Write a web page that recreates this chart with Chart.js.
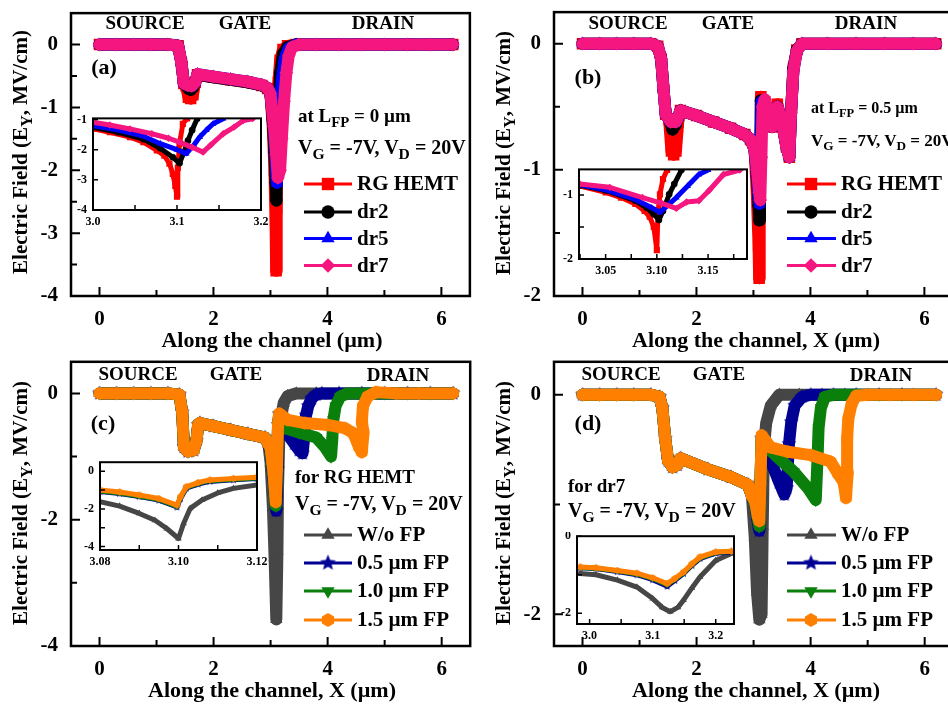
<!DOCTYPE html>
<html><head><meta charset="utf-8">
<script src="https://cdn.jsdelivr.net/npm/chart.js@4.4.1/dist/chart.umd.min.js"></script>
<style>
html,body{margin:0;padding:0;overflow:hidden;background:#fff;}
body{position:relative;width:948px;height:706px;}
canvas{position:absolute;}
.t{position:absolute;z-index:5;white-space:nowrap;font-family:"Liberation Serif","Times New Roman",serif;font-weight:bold;color:#000;line-height:1;}
.t sub{font-size:0.78em;vertical-align:baseline;position:relative;top:0.32em;}
.c{transform:translate(-50%,-50%);}
.l{transform:translateY(-50%);}
.r{transform:translate(-50%,-50%) rotate(-90deg);}
</style></head><body>

<div class="t c" style="left:145px;top:22px;font-size:19px">SOURCE</div>
<div class="t c" style="left:245px;top:22px;font-size:19px">GATE</div>
<div class="t c" style="left:383px;top:22px;font-size:19px">DRAIN</div>
<div class="t c" style="left:104px;top:67px;font-size:22px">(a)</div>
<div class="t l" style="left:298px;top:115px;font-size:19px">at L<sub>FP</sub> = 0 µm</div>
<div class="t l" style="left:298px;top:147px;font-size:20px">V<sub>G</sub> = -7V, V<sub>D</sub> = 20V</div>

<div class="t c" style="left:628px;top:22px;font-size:19px">SOURCE</div>
<div class="t c" style="left:728px;top:22px;font-size:19px">GATE</div>
<div class="t c" style="left:866px;top:22px;font-size:19px">DRAIN</div>
<div class="t c" style="left:588px;top:77px;font-size:22px">(b)</div>
<div class="t l" style="left:811px;top:108px;font-size:16px">at L<sub>FP</sub> = 0.5 µm</div>
<div class="t l" style="left:811px;top:140px;font-size:17px">V<sub>G</sub> = -7V, V<sub>D</sub> = 20V</div>

<div class="t c" style="left:138px;top:373px;font-size:19px">SOURCE</div>
<div class="t c" style="left:236px;top:373px;font-size:19px">GATE</div>
<div class="t c" style="left:398px;top:374px;font-size:19px">DRAIN</div>
<div class="t c" style="left:103px;top:423px;font-size:22px">(c)</div>
<div class="t l" style="left:295px;top:476px;font-size:19px">for RG HEMT</div>
<div class="t l" style="left:295px;top:503px;font-size:20px">V<sub>G</sub> = -7V, V<sub>D</sub> = 20V</div>

<div class="t c" style="left:621px;top:373px;font-size:19px">SOURCE</div>
<div class="t c" style="left:719px;top:373px;font-size:19px">GATE</div>
<div class="t c" style="left:881px;top:374px;font-size:19px">DRAIN</div>
<div class="t c" style="left:588px;top:423px;font-size:22px">(d)</div>
<div class="t l" style="left:568px;top:485px;font-size:19px">for dr7</div>
<div class="t l" style="left:568px;top:510px;font-size:20px">V<sub>G</sub> = -7V, V<sub>D</sub> = 20V</div>

<div class="t r" style="left:20px;top:152px;font-size:21px">Electric Field (E<sub>Y</sub>, MV/cm)</div>
<div class="t r" style="left:503px;top:153px;font-size:21px">Electric Field (E<sub>Y</sub>, MV/cm)</div>
<div class="t r" style="left:20px;top:503px;font-size:21px">Electric Field (E<sub>Y</sub>, MV/cm)</div>
<div class="t r" style="left:503px;top:503px;font-size:21px">Electric Field (E<sub>Y</sub>, MV/cm)</div>
<div class="t c" style="left:272px;top:340px;font-size:22px">Along the channel (µm)</div>
<div class="t c" style="left:756px;top:340px;font-size:22px">Along the channel, X (µm)</div>
<div class="t c" style="left:272px;top:690px;font-size:22px">Along the channel, X (µm)</div>
<div class="t c" style="left:756px;top:690px;font-size:22px">Along the channel, X (µm)</div>

<script>
// ================= DATA =================
// ---- tick values / labels ----
const MAIN_X_TICKS = [0, 2, 4, 6];
const MAIN_X_MINOR = [1, 3, 5];
const A_Y_TICKS = [0, -1, -2, -3, -4];
const A_Y_MINOR = [-0.5, -1.5, -2.5, -3.5];
const B_Y_TICKS = [0, -1, -2];
const B_Y_MINOR = [-0.5, -1.5];
const C_Y_TICKS = [0, -2, -4];
const C_Y_MINOR = [-1, -3];
const D_Y_TICKS = [0, -2];
const D_Y_MINOR = [-1];
const IA_X_TICKS = [3.0, 3.1, 3.2];   const IA_X_LABELS = ['3.0', '3.1', '3.2'];   const IA_X_MINOR = [3.05, 3.15];
const IA_Y_TICKS = [-1, -2, -3, -4];  const IA_Y_MINOR = [];
const IB_X_TICKS = [3.05, 3.10, 3.15]; const IB_X_LABELS = ['3.05', '3.10', '3.15']; const IB_X_MINOR = [3.025, 3.075, 3.125, 3.175];
const IB_Y_TICKS = [-1, -2];          const IB_Y_MINOR = [-1.5];
const IC_X_TICKS = [3.08, 3.10, 3.12]; const IC_X_LABELS = ['3.08', '3.10', '3.12']; const IC_X_MINOR = [3.09, 3.11];
const IC_Y_TICKS = [0, -2, -4];       const IC_Y_MINOR = [-1, -3];
const ID_X_TICKS = [3.0, 3.1, 3.2];   const ID_X_LABELS = ['3.0', '3.1', '3.2'];   const ID_X_MINOR = [3.05, 3.15];
const ID_Y_TICKS = [0, -2];           const ID_Y_MINOR = [-1];

// ---- legend labels ----
const LABELS_AB = ['RG HEMT', 'dr2', 'dr5', 'dr7'];
const LABELS_CD = ['W/o FP', '0.5 µm FP', '1.0 µm FP', '1.5 µm FP'];

// ---- Panel (a): L_FP = 0 ----
const A_RG_X = [0,0.3,0.6,0.9,1.2,1.38,1.44,1.48,1.52,1.56,1.6,1.64,1.68,1.72,2.0,2.3,2.6,2.85,2.95,3.0,3.04,3.07,3.09,3.1,3.11,3.12,3.14,3.17,3.22,3.3,3.45,3.8,4.2,4.6,5.0,5.4,5.8,6.2];
const A_RG_Y = [0,0,0,0,0,-0.02,-0.3,-0.62,-0.66,-0.84,-0.86,-0.8,-0.6,-0.48,-0.52,-0.56,-0.6,-0.65,-0.7,-0.78,-1.3,-2.0,-2.8,-3.6,-2.6,-1.3,-0.6,-0.25,-0.08,-0.02,0,0,0,0,0,0,0,0];
const A_D2_X = [0,0.3,0.6,0.9,1.2,1.38,1.44,1.48,1.52,1.56,1.6,1.64,1.68,1.72,2.0,2.3,2.6,2.85,2.95,3.0,3.04,3.07,3.09,3.105,3.12,3.14,3.17,3.22,3.3,3.45,3.8,4.2,4.6,5.0,5.4,5.8,6.2];
const A_D2_Y = [0,0,0,0,0,-0.02,-0.3,-0.62,-0.65,-0.7,-0.72,-0.68,-0.6,-0.48,-0.52,-0.56,-0.6,-0.65,-0.7,-0.78,-1.2,-1.7,-2.2,-2.48,-1.8,-1.0,-0.45,-0.15,-0.04,0,0,0,0,0,0,0,0];
const A_D5_X = [0,0.3,0.6,0.9,1.2,1.38,1.44,1.48,1.55,1.62,1.68,1.72,2.0,2.3,2.6,2.85,2.95,3.0,3.05,3.08,3.1,3.115,3.14,3.17,3.2,3.25,3.32,3.45,3.8,4.2,4.6,5.0,5.4,5.8,6.2];
const A_D5_Y = [0,0,0,0,0,-0.02,-0.3,-0.62,-0.65,-0.66,-0.6,-0.47,-0.51,-0.55,-0.59,-0.64,-0.69,-0.77,-1.2,-1.6,-1.95,-2.2,-1.6,-1.0,-0.55,-0.22,-0.06,0,0,0,0,0,0,0,0];
const A_D7_X = [0,0.3,0.6,0.9,1.2,1.38,1.44,1.48,1.55,1.62,1.68,1.72,2.0,2.3,2.6,2.85,2.95,3.0,3.06,3.1,3.13,3.17,3.2,3.24,3.28,3.32,3.38,3.5,3.8,4.2,4.6,5.0,5.4,5.8,6.2];
const A_D7_Y = [0,0,0,0,0,-0.02,-0.3,-0.62,-0.65,-0.66,-0.6,-0.47,-0.51,-0.55,-0.59,-0.64,-0.69,-0.78,-1.3,-1.75,-2.12,-2.0,-1.5,-0.9,-0.45,-0.18,-0.04,0,0,0,0,0,0,0,0];

// ---- Panel (b): L_FP = 0.5 ----
const B_RG_X = [0,0.3,0.6,0.9,1.2,1.32,1.38,1.42,1.46,1.52,1.56,1.6,1.64,1.68,1.72,2.0,2.3,2.6,2.85,2.95,3.02,3.06,3.09,3.1,3.11,3.12,3.13,3.2,3.33,3.42,3.5,3.58,3.63,3.66,3.7,3.76,3.85,4.3,4.8,5.3,5.8,6.2];
const B_RG_Y = [0,0,0,0,0,-0.02,-0.12,-0.35,-0.56,-0.6,-0.85,-0.88,-0.85,-0.62,-0.53,-0.57,-0.62,-0.67,-0.72,-0.76,-0.84,-1.2,-1.6,-1.86,-1.3,-0.8,-0.42,-0.46,-0.66,-0.48,-0.62,-0.82,-0.9,-0.55,-0.2,-0.05,0,0,0,0,0,0];
const B_D2_X = [0,0.3,0.6,0.9,1.2,1.32,1.38,1.42,1.46,1.52,1.58,1.64,1.68,1.72,2.0,2.3,2.6,2.85,2.95,3.02,3.06,3.09,3.102,3.115,3.13,3.2,3.33,3.42,3.5,3.58,3.63,3.66,3.7,3.76,3.85,4.3,4.8,5.3,5.8,6.2];
const B_D2_Y = [0,0,0,0,0,-0.02,-0.12,-0.35,-0.56,-0.6,-0.68,-0.64,-0.58,-0.53,-0.57,-0.62,-0.67,-0.72,-0.76,-0.84,-1.05,-1.28,-1.4,-1.0,-0.45,-0.46,-0.66,-0.5,-0.62,-0.82,-0.9,-0.55,-0.2,-0.05,0,0,0,0,0,0];
const B_D5_X = [0,0.3,0.6,0.9,1.2,1.32,1.38,1.42,1.46,1.55,1.64,1.68,1.72,2.0,2.3,2.6,2.85,2.95,3.02,3.06,3.09,3.107,3.12,3.14,3.2,3.33,3.42,3.5,3.58,3.63,3.66,3.7,3.76,3.85,4.3,4.8,5.3,5.8,6.2];
const B_D5_Y = [0,0,0,0,0,-0.02,-0.12,-0.35,-0.56,-0.62,-0.62,-0.58,-0.53,-0.57,-0.62,-0.67,-0.72,-0.76,-0.84,-1.02,-1.2,-1.27,-0.9,-0.46,-0.47,-0.66,-0.5,-0.62,-0.82,-0.9,-0.55,-0.22,-0.06,0,0,0,0,0,0];
const B_D7_X = [0,0.3,0.6,0.9,1.2,1.32,1.38,1.42,1.46,1.55,1.64,1.68,1.72,2.0,2.3,2.6,2.85,2.95,3.02,3.06,3.1,3.12,3.14,3.16,3.2,3.33,3.42,3.5,3.58,3.63,3.66,3.7,3.76,3.85,4.3,4.8,5.3,5.8,6.2];
const B_D7_Y = [0,0,0,0,0,-0.02,-0.12,-0.35,-0.56,-0.62,-0.62,-0.58,-0.53,-0.57,-0.62,-0.67,-0.72,-0.76,-0.84,-1.0,-1.18,-1.24,-0.9,-0.5,-0.44,-0.66,-0.5,-0.62,-0.82,-0.9,-0.55,-0.22,-0.06,0,0,0,0,0,0];

// ---- Panel (c): RG HEMT, field plates ----
const C_WO_X = [0,0.3,0.6,0.9,1.2,1.4,1.45,1.48,1.55,1.65,1.7,1.73,1.76,2.0,2.3,2.6,2.9,2.96,3.0,3.04,3.07,3.1,3.12,3.13,3.15,3.18,3.23,3.3,3.45,3.8,4.2,4.6,5.0,5.4,5.8,6.2];
const C_WO_Y = [0,0,0,0,0,-0.02,-0.3,-0.85,-0.92,-0.9,-0.75,-0.5,-0.47,-0.52,-0.58,-0.64,-0.7,-0.8,-1.1,-1.8,-2.6,-3.58,-2.5,-1.5,-0.8,-0.4,-0.15,-0.04,0,0,0,0,0,0,0,0];
const C_F05_X = [0,0.3,0.6,0.9,1.2,1.4,1.45,1.48,1.55,1.65,1.7,1.73,1.76,2.0,2.3,2.6,2.9,2.96,3.0,3.05,3.1,3.12,3.13,3.15,3.2,3.3,3.42,3.5,3.56,3.59,3.62,3.66,3.72,3.8,3.9,4.2,4.6,5.0,5.4,5.8,6.2];
const C_F05_Y = [0,0,0,0,0,-0.02,-0.3,-0.85,-0.92,-0.9,-0.75,-0.5,-0.47,-0.52,-0.58,-0.64,-0.7,-0.8,-0.9,-1.35,-1.86,-1.2,-0.5,-0.33,-0.52,-0.65,-0.8,-0.9,-0.95,-0.7,-0.35,-0.2,-0.08,-0.02,0,0,0,0,0,0,0];
const C_F10_X = [0,0.3,0.6,0.9,1.2,1.4,1.45,1.48,1.55,1.65,1.7,1.73,1.76,2.0,2.3,2.6,2.9,2.96,3.0,3.05,3.09,3.11,3.13,3.15,3.25,3.5,3.8,3.95,4.06,4.08,4.1,4.14,4.22,4.35,4.6,5.0,5.4,5.8,6.2];
const C_F10_Y = [0,0,0,0,0,-0.02,-0.3,-0.85,-0.92,-0.9,-0.75,-0.5,-0.47,-0.52,-0.58,-0.64,-0.7,-0.8,-0.88,-1.3,-1.78,-1.2,-0.5,-0.34,-0.55,-0.62,-0.7,-0.85,-1.0,-0.75,-0.42,-0.2,-0.05,0,0,0,0,0,0];
const C_F15_X = [0,0.3,0.6,0.9,1.2,1.4,1.45,1.48,1.55,1.65,1.7,1.73,1.76,2.0,2.3,2.6,2.9,2.96,3.0,3.05,3.09,3.11,3.13,3.15,3.3,3.6,4.0,4.3,4.45,4.55,4.6,4.63,4.6,4.62,4.7,4.85,5.2,5.6,6.2];
const C_F15_Y = [0,0,0,0,0,-0.02,-0.3,-0.85,-0.92,-0.9,-0.75,-0.5,-0.47,-0.52,-0.58,-0.64,-0.7,-0.8,-0.86,-1.25,-1.72,-1.2,-0.5,-0.32,-0.42,-0.47,-0.5,-0.55,-0.63,-0.85,-0.93,-0.62,-0.45,-0.2,-0.05,0.02,0,0,0];

// ---- Panel (d): dr7, field plates ----
const D_WO_X = [0,0.3,0.6,0.9,1.2,1.35,1.4,1.45,1.5,1.58,1.66,1.72,2.2,2.6,2.9,2.97,3.02,3.06,3.1,3.14,3.16,3.18,3.22,3.3,3.45,3.8,4.2,4.6,5.0,5.4,5.8,6.2];
const D_WO_Y = [0,0,0,0,0,-0.02,-0.12,-0.4,-0.6,-0.66,-0.64,-0.58,-0.68,-0.75,-0.82,-0.92,-1.3,-1.8,-2.05,-2.0,-1.2,-0.5,-0.26,-0.1,0,0,0,0,0,0,0,0];
const D_F05_X = [0,0.3,0.6,0.9,1.2,1.35,1.4,1.45,1.5,1.58,1.66,1.72,2.2,2.6,2.9,2.97,3.03,3.07,3.1,3.12,3.14,3.2,3.3,3.45,3.54,3.58,3.62,3.66,3.72,3.85,4.0,4.4,4.8,5.2,5.6,6.2];
const D_F05_Y = [0,0,0,0,0,-0.02,-0.12,-0.4,-0.6,-0.66,-0.64,-0.58,-0.68,-0.75,-0.82,-0.92,-1.0,-1.15,-1.24,-0.8,-0.4,-0.46,-0.6,-0.8,-0.91,-0.85,-0.45,-0.25,-0.1,-0.02,0,0,0,0,0,0];
const D_F10_X = [0,0.3,0.6,0.9,1.2,1.35,1.4,1.45,1.5,1.58,1.66,1.72,2.2,2.6,2.9,2.97,3.03,3.07,3.1,3.12,3.14,3.2,3.4,3.7,3.95,4.09,4.12,4.14,4.18,4.25,4.4,4.8,5.2,5.6,6.2];
const D_F10_Y = [0,0,0,0,0,-0.02,-0.12,-0.4,-0.6,-0.66,-0.64,-0.58,-0.68,-0.75,-0.82,-0.92,-1.0,-1.12,-1.2,-0.8,-0.4,-0.46,-0.56,-0.7,-0.85,-0.96,-0.6,-0.3,-0.12,-0.02,0,0,0,0,0];
const D_F15_X = [0,0.3,0.6,0.9,1.2,1.35,1.4,1.45,1.5,1.58,1.66,1.72,2.2,2.6,2.9,2.97,3.03,3.07,3.1,3.12,3.14,3.3,3.6,4.0,4.35,4.48,4.58,4.62,4.65,4.64,4.66,4.72,4.8,5.0,5.4,5.8,6.2];
const D_F15_Y = [0,0,0,0,0,-0.02,-0.12,-0.4,-0.6,-0.66,-0.64,-0.58,-0.68,-0.75,-0.82,-0.92,-0.98,-1.1,-1.15,-0.8,-0.37,-0.48,-0.52,-0.55,-0.61,-0.72,-0.8,-0.94,-0.71,-0.4,-0.22,-0.08,-0.01,0,0,0,0];

// ---- Insets ----
const IA_RG_X = [3.0,3.02,3.044,3.06,3.076,3.085,3.091,3.095,3.098,3.1,3.101,3.103,3.107,3.112];
const IA_RG_Y = [-1.3,-1.42,-1.58,-1.75,-2.02,-2.2,-2.46,-2.8,-3.2,-3.56,-2.6,-1.8,-1.14,-0.96];
const IA_D2_X = [3.0,3.03,3.06,3.08,3.095,3.103,3.108,3.113,3.118,3.124];
const IA_D2_Y = [-1.25,-1.42,-1.65,-1.95,-2.25,-2.45,-2.1,-1.7,-1.35,-0.97];
const IA_D5_X = [3.0,3.03,3.06,3.08,3.1,3.111,3.12,3.127,3.135,3.143,3.155];
const IA_D5_Y = [-1.2,-1.35,-1.55,-1.8,-2.0,-2.13,-1.85,-1.58,-1.35,-1.14,-0.97];
const IA_D7_X = [3.0,3.02,3.044,3.07,3.09,3.103,3.118,3.131,3.14,3.155,3.168,3.179,3.19];
const IA_D7_Y = [-1.09,-1.18,-1.31,-1.47,-1.62,-1.75,-1.92,-2.08,-1.85,-1.47,-1.25,-1.03,-0.97];

const IB_RG_X = [3.025,3.05,3.065,3.079,3.088,3.093,3.097,3.1,3.101,3.103,3.106,3.11];
const IB_RG_Y = [-0.86,-0.96,-1.04,-1.14,-1.25,-1.34,-1.5,-1.86,-1.3,-0.99,-0.75,-0.61];
const IB_D2_X = [3.025,3.05,3.079,3.09,3.097,3.102,3.106,3.112,3.117,3.124];
const IB_D2_Y = [-0.85,-0.93,-1.09,-1.2,-1.3,-1.39,-1.25,-0.99,-0.83,-0.61];
const IB_D5_X = [3.025,3.05,3.079,3.095,3.103,3.11,3.119,3.13,3.141,3.15];
const IB_D5_Y = [-0.84,-0.92,-1.07,-1.2,-1.27,-1.17,-1.04,-0.86,-0.68,-0.61];
const IB_D7_X = [3.025,3.054,3.086,3.105,3.119,3.129,3.141,3.151,3.165,3.181];
const IB_D7_Y = [-0.83,-0.88,-1.04,-1.13,-1.21,-1.11,-1.09,-0.93,-0.68,-0.61];

const IC_WO_X = [3.08,3.085,3.09,3.094,3.097,3.1,3.1013,3.103,3.106,3.11,3.114,3.12];
const IC_WO_Y = [-1.62,-1.85,-2.24,-2.6,-3.04,-3.57,-2.77,-1.97,-1.53,-1.15,-0.91,-0.73];
const IC_FP_X = [3.08,3.085,3.09,3.095,3.0996,3.1005,3.102,3.105,3.108,3.114,3.12];
const IC_F05_Y = [-1.08,-1.18,-1.34,-1.53,-1.9,-1.45,-0.9,-0.68,-0.54,-0.45,-0.39];
const IC_F10_Y = [-1.05,-1.15,-1.31,-1.5,-1.86,-1.4,-0.86,-0.64,-0.5,-0.42,-0.36];
const IC_F15_Y = [-1.0,-1.1,-1.26,-1.45,-1.8,-1.35,-0.82,-0.6,-0.46,-0.38,-0.32];

const ID_WO_X = [2.985,3.01,3.044,3.075,3.1,3.115,3.128,3.14,3.149,3.162,3.175,3.2,3.225];
const ID_WO_Y = [-0.97,-1.0,-1.14,-1.32,-1.62,-1.85,-1.96,-1.85,-1.66,-1.35,-1.06,-0.63,-0.45];
const ID_FP_X = [2.985,3.01,3.044,3.075,3.1,3.123,3.135,3.149,3.162,3.175,3.2,3.225];
const ID_F05_Y = [-0.82,-0.84,-0.92,-1.0,-1.13,-1.3,-1.15,-0.97,-0.76,-0.58,-0.44,-0.41];
const ID_F10_Y = [-0.81,-0.83,-0.9,-0.98,-1.1,-1.26,-1.12,-0.95,-0.74,-0.56,-0.42,-0.4];
const ID_F15_Y = [-0.8,-0.82,-0.89,-0.96,-1.08,-1.23,-1.1,-0.93,-0.72,-0.54,-0.41,-0.39];

// ================= STYLE / LAYOUT =================
const FONT = '"Liberation Serif","Times New Roman",serif';

function starImg(r, color) {
  const c = document.createElement('canvas'); const s = Math.ceil(2 * r + 2);
  c.width = c.height = s; const g = c.getContext('2d'); g.fillStyle = color; g.beginPath();
  for (let i = 0; i < 10; i++) {
    const rr = i % 2 ? r * 0.45 : r, a = -Math.PI / 2 + i * Math.PI / 5;
    const px = s / 2 + rr * Math.cos(a), py = s / 2 + rr * Math.sin(a);
    if (i) g.lineTo(px, py); else g.moveTo(px, py);
  }
  g.closePath(); g.fill(); return c;
}
function hexImg(r, color) {
  const c = document.createElement('canvas'); const s = Math.ceil(2 * r + 2);
  c.width = c.height = s; const g = c.getContext('2d'); g.fillStyle = color; g.beginPath();
  for (let i = 0; i < 6; i++) {
    const a = -Math.PI / 2 + i * Math.PI / 3;
    const px = s / 2 + r * Math.cos(a), py = s / 2 + r * Math.sin(a);
    if (i) g.lineTo(px, py); else g.moveTo(px, py);
  }
  g.closePath(); g.fill(); return c;
}

const STY = {
  RG:  { color: '#ff0000', ps: 'rect', k: 1.25 },
  D2:  { color: '#000000', ps: 'circle', k: 0.95 },
  D5:  { color: '#0000ff', ps: 'triangle', k: 1.1 },
  D7:  { color: '#f5167f', ps: 'rectRot', k: 1.05 },
  WO:  { color: '#464646', ps: 'triangle', k: 1.1 },
  F05: { color: '#000094', ps: 'star', k: 1.2 },
  F10: { color: '#0b7f0b', ps: 'triangle', rot: 180, k: 1.1 },
  F15: { color: '#ff8000', ps: 'hex', k: 1.0 }
};
function pStyle(st, r) {
  if (st.ps === 'star') return starImg(r, st.color);
  if (st.ps === 'hex') return hexImg(r, st.color);
  return st.ps;
}

const decoPlugin = {
  id: 'deco',
  afterDatasetsDraw(chart, args, o) {
    const { ctx, chartArea: a, scales } = chart;
    const x = scales.x, y = scales.y;
    ctx.save();
    ctx.strokeStyle = '#000';
    ctx.lineWidth = o.tw;
    ctx.beginPath();
    o.xMajor.forEach(v => { const p = x.getPixelForValue(v); ctx.moveTo(p, a.bottom); ctx.lineTo(p, a.bottom - o.tl); });
    o.xMinor.forEach(v => { const p = x.getPixelForValue(v); ctx.moveTo(p, a.bottom); ctx.lineTo(p, a.bottom - o.tl2); });
    o.yMajor.forEach(v => { const p = y.getPixelForValue(v); ctx.moveTo(a.left, p); ctx.lineTo(a.left + o.tl, p); });
    o.yMinor.forEach(v => { const p = y.getPixelForValue(v); ctx.moveTo(a.left, p); ctx.lineTo(a.left + o.tl2, p); });
    ctx.stroke();
    ctx.lineWidth = o.lw;
    ctx.strokeRect(a.left, a.top, a.right - a.left, a.bottom - a.top);
    if (o.legend) {
      const L = o.legend;
      L.rows.forEach((ry, i) => {
        const st = L.styles[i];
        ctx.strokeStyle = st.color; ctx.fillStyle = st.color; ctx.lineWidth = 3;
        ctx.beginPath(); ctx.moveTo(L.x1, ry); ctx.lineTo(L.x2, ry); ctx.stroke();
        const r = 7 * st.k;
        Chart.helpers.drawPoint(ctx, { pointStyle: pStyle(st, r), rotation: st.rot || 0, radius: r, borderWidth: 0 }, L.xm, ry);
        ctx.fillStyle = '#000'; ctx.font = 'bold 21px ' + FONT; ctx.textBaseline = 'middle'; ctx.textAlign = 'left';
        ctx.fillText(L.labels[i], L.xt, ry + 1);
      });
    }
    ctx.restore();
  }
};

function zeroPad(s) { s.paddingTop = 0; s.paddingBottom = 0; s.paddingLeft = 0; s.paddingRight = 0; }

function makeChart(p) {
  const b = p.box;
  const W = b.R - b.L + p.ml + p.pr, H = b.B - b.T + p.pt + p.mb;
  const left = b.L - p.ml, top = b.T - p.pt;
  const cv = document.createElement('canvas');
  cv.width = W; cv.height = H;
  cv.style.left = left + 'px'; cv.style.top = top + 'px';
  cv.style.width = W + 'px'; cv.style.height = H + 'px';
  document.body.appendChild(cv);
  const n = p.series.length;
  const datasets = p.series.map((s, i) => {
    const st = STY[s[2]];
    const r = p.pr0 * st.k;
    return {
      data: s[0].map((xv, j) => ({ x: xv, y: s[1][j] })),
      borderColor: st.color, backgroundColor: st.color,
      borderWidth: p.lineW, borderJoinStyle: 'round', borderCapStyle: 'round', tension: 0,
      pointStyle: pStyle(st, r), pointRotation: st.rot || 0, pointRadius: r,
      pointBorderWidth: 0, pointBackgroundColor: st.color, pointBorderColor: st.color,
      order: n - i
    };
  });
  let legend = null;
  if (p.legend) {
    const g = p.legend;
    legend = {
      rows: g.rows.map(v => v - top), x1: g.x[0] - left, x2: g.x[1] - left, xm: g.x[2] - left, xt: g.x[3] - left,
      labels: g.labels, styles: p.series.map(s => STY[s[2]])
    };
  }
  const font = { family: FONT, size: p.fs, weight: 'bold' };
  new Chart(cv, {
    type: 'line',
    data: { datasets },
    plugins: [decoPlugin],
    options: {
      responsive: false, animation: false, events: [],
      layout: { padding: { left: 0, top: p.pt, right: p.pr, bottom: 0 } },
      plugins: {
        legend: { display: false }, tooltip: { enabled: false },
        deco: { lw: p.frameW, tw: p.tickW, tl: p.tl, tl2: p.tl2, xMajor: p.xTicks, xMinor: p.xMinor, yMajor: p.yTicks, yMinor: p.yMinor, legend }
      },
      scales: {
        x: {
          type: 'linear', min: p.xr[0], max: p.xr[1],
          afterBuildTicks: s => { s.ticks = p.xTicks.map(v => ({ value: v })); },
          afterFit: s => { s.height = p.mb; zeroPad(s); },
          ticks: { autoSkip: false, maxRotation: 0, padding: p.xpad, color: '#000', font,
                   callback: (v, i) => p.xLabels ? p.xLabels[i] : String(p.xTicks[i]) },
          grid: { display: false, drawTicks: false }, border: { display: false }
        },
        y: {
          type: 'linear', min: p.yr[0], max: p.yr[1],
          afterBuildTicks: s => { s.ticks = p.yTicks.map(v => ({ value: v })); },
          afterFit: s => { s.width = p.ml; zeroPad(s); },
          ticks: { autoSkip: false, padding: p.ypad, color: '#000', font,
                   callback: (v, i) => String(p.yTicks[i]) },
          grid: { display: false, drawTicks: false }, border: { display: false }
        }
      }
    }
  });
}

const MAIN = { ml: 64, pr: 4, pt: 4, mb: 44, fs: 21, xpad: 11, ypad: 13, lineW: 12, pr0: 6.5, frameW: 2.5, tickW: 2, tl: 9, tl2: 6, xTicks: MAIN_X_TICKS, xMinor: MAIN_X_MINOR };
const INS = { ml: 30, pr: 16, pt: 4, mb: 22, fs: 12, xpad: 5, ypad: 6, lineW: 5, pr0: 3.5, frameW: 2, tickW: 1.5, tl: 5, tl2: 5 };

const LEG_LEFT = [304, 352, 328, 357];
const LEG_RIGHT = [787, 836, 811, 841];

makeChart(Object.assign({}, MAIN, {
  box: { L: 71, T: 9, R: 474, B: 296 }, xr: [-0.5, 6.5], yr: [-4, 0.5],
  yTicks: A_Y_TICKS, yMinor: A_Y_MINOR,
  series: [[A_RG_X, A_RG_Y, 'RG'], [A_D2_X, A_D2_Y, 'D2'], [A_D5_X, A_D5_Y, 'D5'], [A_D7_X, A_D7_Y, 'D7']],
  legend: { rows: [184, 212, 238.5, 265.5], x: LEG_LEFT, labels: LABELS_AB }
}));
makeChart(Object.assign({}, MAIN, {
  box: { L: 554, T: 8, R: 957, B: 296 }, xr: [-0.5, 6.5], yr: [-2, 0.25],
  yTicks: B_Y_TICKS, yMinor: B_Y_MINOR,
  series: [[B_RG_X, B_RG_Y, 'RG'], [B_D2_X, B_D2_Y, 'D2'], [B_D5_X, B_D5_Y, 'D5'], [B_D7_X, B_D7_Y, 'D7']],
  legend: { rows: [184, 212, 238.5, 265.5], x: LEG_RIGHT, labels: LABELS_AB }
}));
makeChart(Object.assign({}, MAIN, {
  box: { L: 71, T: 358, R: 474, B: 646 }, xr: [-0.5, 6.5], yr: [-4, 0.5],
  yTicks: C_Y_TICKS, yMinor: C_Y_MINOR,
  series: [[C_WO_X, C_WO_Y, 'WO'], [C_F05_X, C_F05_Y, 'F05'], [C_F10_X, C_F10_Y, 'F10'], [C_F15_X, C_F15_Y, 'F15']],
  legend: { rows: [535, 563, 591, 620], x: LEG_LEFT, labels: LABELS_CD }
}));
makeChart(Object.assign({}, MAIN, {
  box: { L: 554, T: 358, R: 957, B: 646 }, xr: [-0.5, 6.5], yr: [-2.29, 0.3],
  yTicks: D_Y_TICKS, yMinor: D_Y_MINOR,
  series: [[D_WO_X, D_WO_Y, 'WO'], [D_F05_X, D_F05_Y, 'F05'], [D_F10_X, D_F10_Y, 'F10'], [D_F15_X, D_F15_Y, 'F15']],
  legend: { rows: [535, 563, 591, 620], x: LEG_RIGHT, labels: LABELS_CD }
}));

makeChart(Object.assign({}, INS, {
  box: { L: 93, T: 118, R: 261, B: 210 }, xr: [3.0, 3.2], yr: [-4, -0.96],
  xTicks: IA_X_TICKS, xLabels: IA_X_LABELS, xMinor: IA_X_MINOR, yTicks: IA_Y_TICKS, yMinor: IA_Y_MINOR,
  series: [[IA_RG_X, IA_RG_Y, 'RG'], [IA_D2_X, IA_D2_Y, 'D2'], [IA_D5_X, IA_D5_Y, 'D5'], [IA_D7_X, IA_D7_Y, 'D7']]
}));
makeChart(Object.assign({}, INS, {
  box: { L: 579, T: 169, R: 747, B: 259 }, xr: [3.024, 3.188], yr: [-2, -0.6],
  xTicks: IB_X_TICKS, xLabels: IB_X_LABELS, xMinor: IB_X_MINOR, yTicks: IB_Y_TICKS, yMinor: IB_Y_MINOR,
  series: [[IB_RG_X, IB_RG_Y, 'RG'], [IB_D2_X, IB_D2_Y, 'D2'], [IB_D5_X, IB_D5_Y, 'D5'], [IB_D7_X, IB_D7_Y, 'D7']]
}));
makeChart(Object.assign({}, INS, {
  box: { L: 100, T: 462, R: 257, B: 550 }, xr: [3.08, 3.12], yr: [-4.18, 0.48],
  xTicks: IC_X_TICKS, xLabels: IC_X_LABELS, xMinor: IC_X_MINOR, yTicks: IC_Y_TICKS, yMinor: IC_Y_MINOR,
  series: [[IC_WO_X, IC_WO_Y, 'WO'], [IC_FP_X, IC_F05_Y, 'F05'], [IC_FP_X, IC_F10_Y, 'F10'], [IC_FP_X, IC_F15_Y, 'F15']]
}));
makeChart(Object.assign({}, INS, {
  box: { L: 577, T: 536, R: 734, B: 624 }, xr: [2.98, 3.229], yr: [-2.28, 0],
  xTicks: ID_X_TICKS, xLabels: ID_X_LABELS, xMinor: ID_X_MINOR, yTicks: ID_Y_TICKS, yMinor: ID_Y_MINOR,
  series: [[ID_WO_X, ID_WO_Y, 'WO'], [ID_FP_X, ID_F05_Y, 'F05'], [ID_FP_X, ID_F10_Y, 'F10'], [ID_FP_X, ID_F15_Y, 'F15']]
}));
</script>
</body></html>
